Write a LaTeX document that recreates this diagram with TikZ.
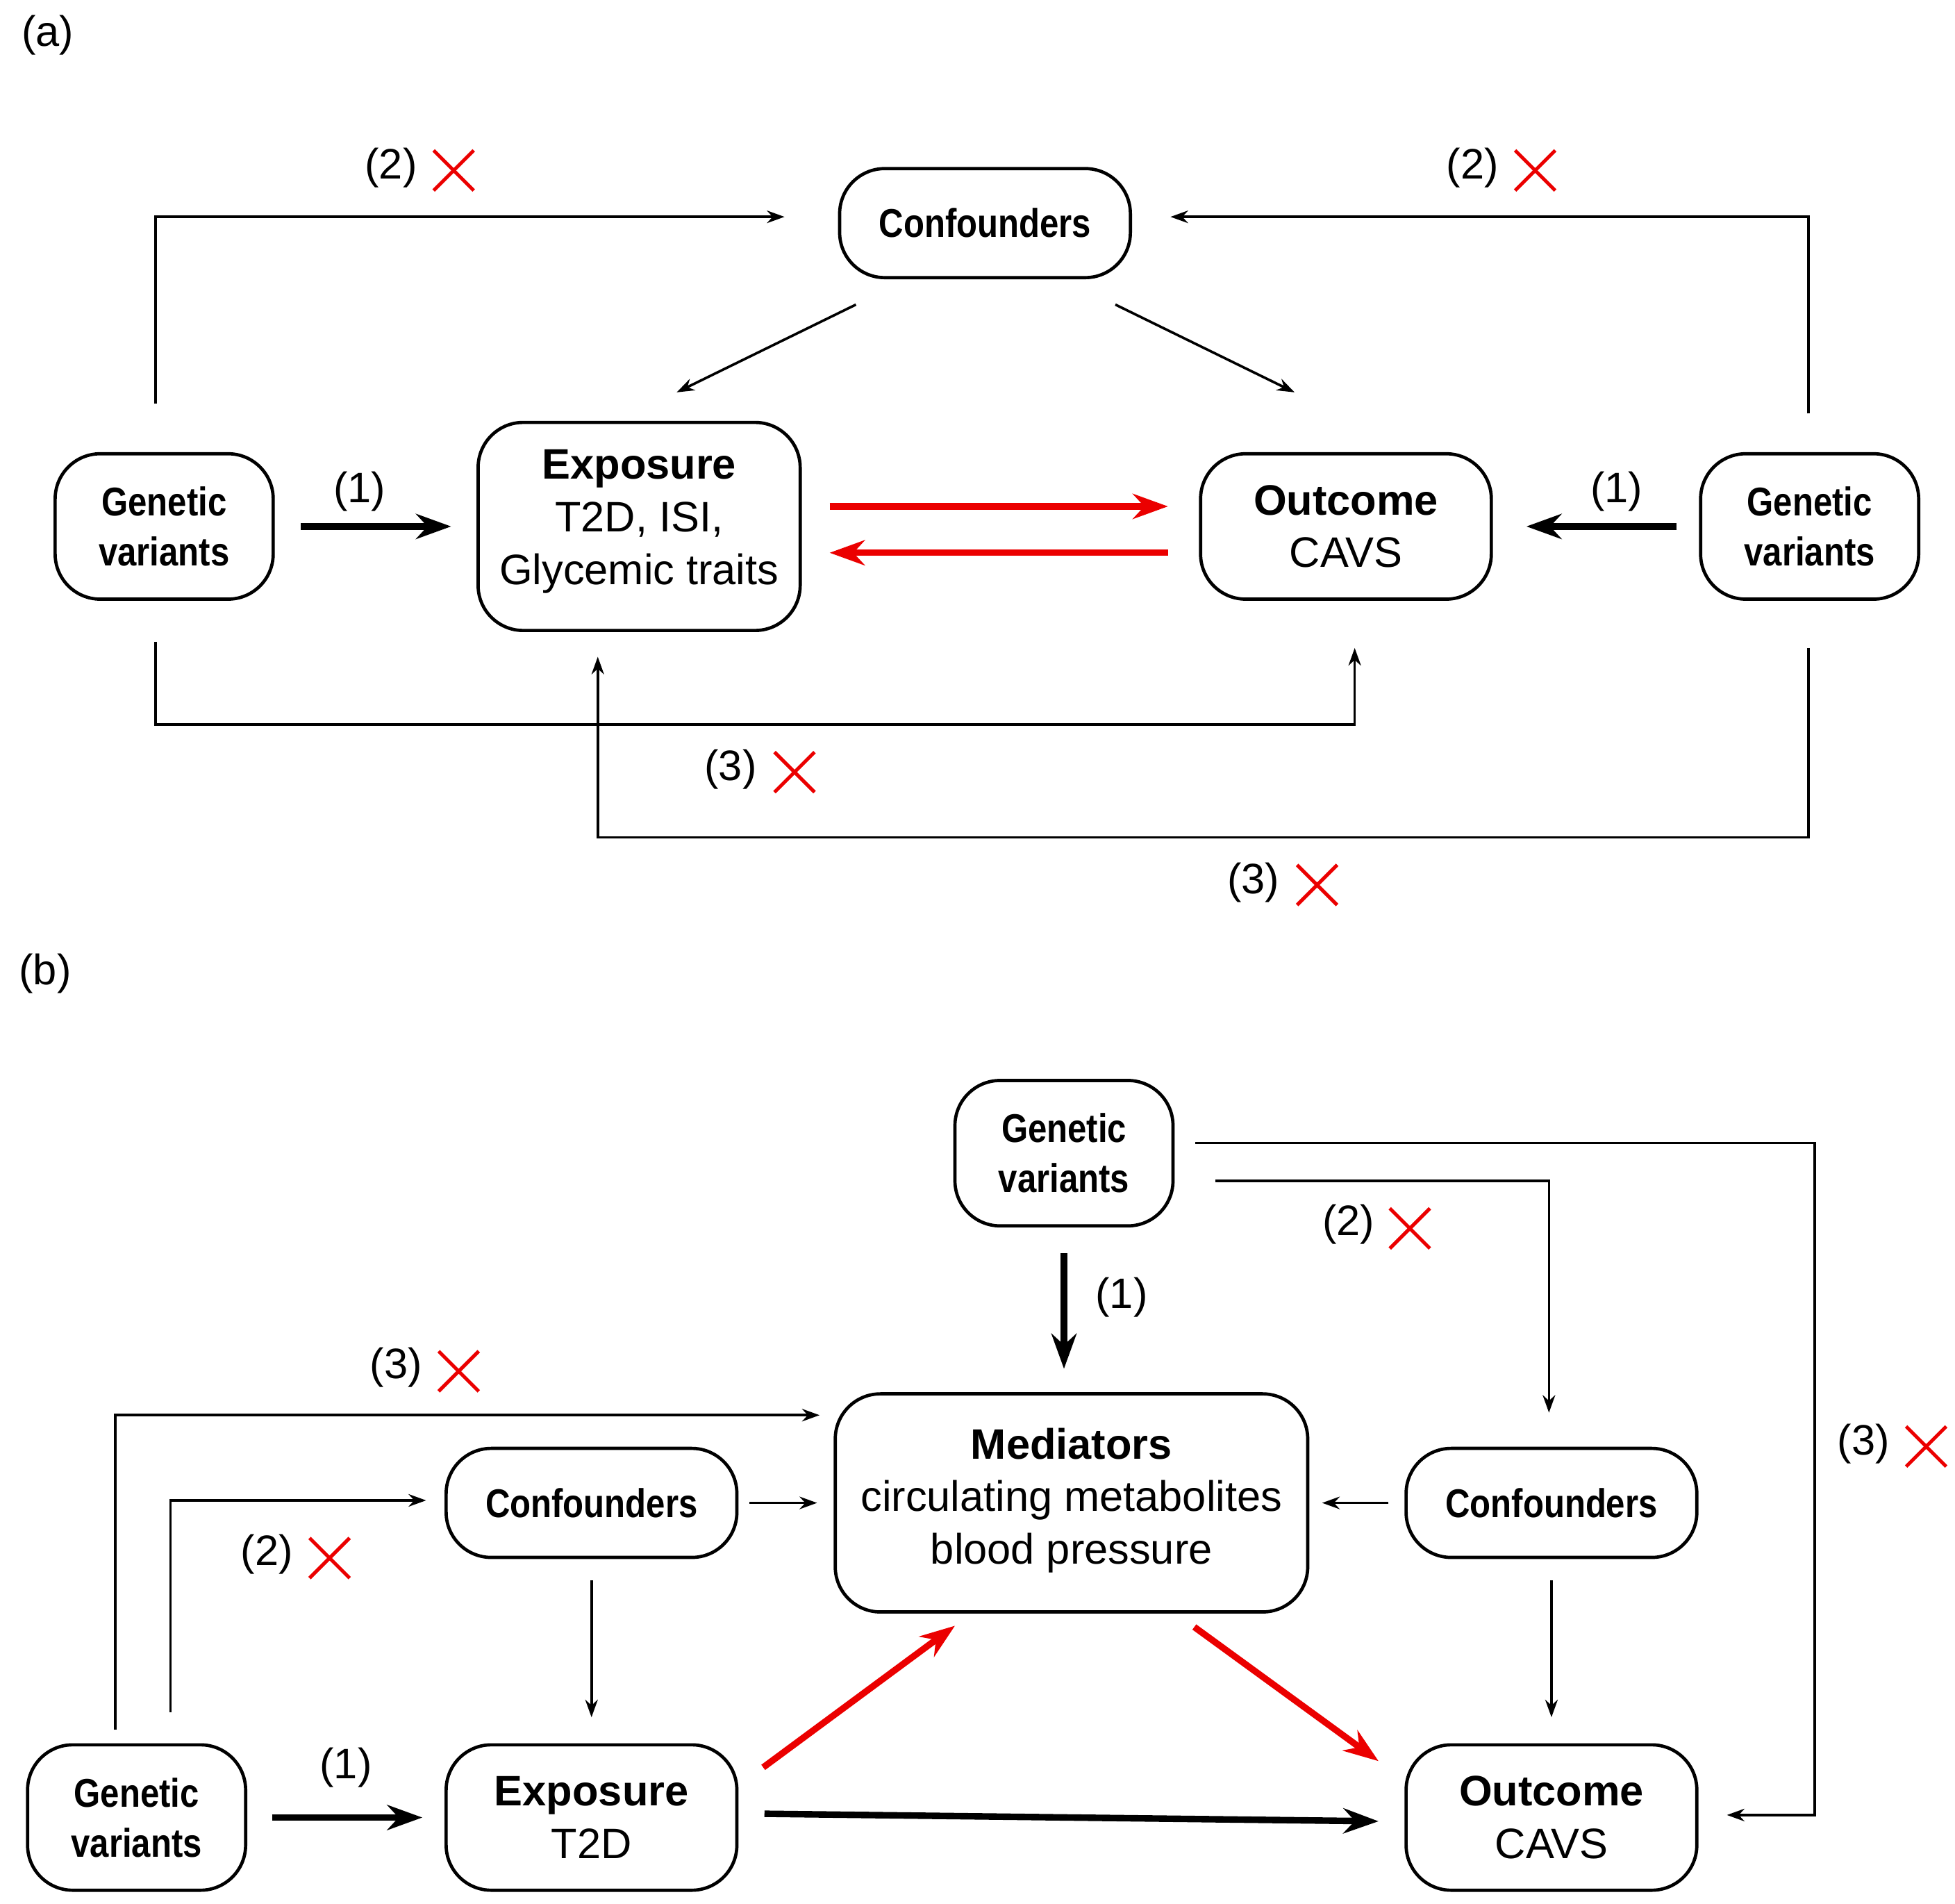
\documentclass[tikz,border=0pt]{standalone}
\usepackage{fontspec}
\setmainfont{Liberation Sans}
\usetikzlibrary{arrows.meta}
\definecolor{myred}{RGB}{235,0,0}
\begin{document}
\begin{tikzpicture}[x=0.5pt,y=-0.5pt,
  box/.style={draw,line width=1.3pt,rounded corners=18pt,inner sep=0pt},
  thin/.style={line width=1pt,-{Stealth[length=7pt,width=5pt]}},
  thick/.style={line width=2.6pt,-{Stealth[length=14pt,width=10pt]}},
  redarr/.style={line width=2.6pt,draw=myred,-{Stealth[length=14pt,width=10pt]}},
  lab/.style={font=\fontsize{17}{20}\selectfont},
  cond/.style={font=\fontsize{16}{20}\selectfont\bfseries,xscale=0.85,align=center},
  txt/.style={font=\fontsize{17}{21}\selectfont,align=center},
  cross/.pic={\draw[line width=1.4pt,myred] (-16,-16)--(16,16) (-16,16)--(16,-16);}]
\useasboundingbox (0,0) rectangle (1560,1519);
% ---------- (a)
\node[lab] at (38,28) {(a)};
\node[box,minimum width=116pt,minimum height=43.5pt] (c) at (786,178) {};
\node[cond] at (786,178) {Confounders};
\node[box,minimum width=128.5pt,minimum height=83pt] (e) at (510,420) {};
\node[txt] at (510,416) {\textbf{Exposure}\\T2D, ISI,\\Glycemic traits};
\node[box,minimum width=116pt,minimum height=58pt] (o) at (1074,420) {};
\node[txt] at (1074,420) {\textbf{Outcome}\\CAVS};
\node[box,minimum width=87pt,minimum height=58pt] (g1) at (131,420) {};
\node[cond] at (131,420) {Genetic\\variants};
\node[box,minimum width=87pt,minimum height=58pt] (g2) at (1444,420) {};
\node[cond] at (1444,420) {Genetic\\variants};
\coordinate (a1) at (240,420); \coordinate (a2) at (360,420);
\draw[thick] (a1)--(a2); \node[lab] at (287,392) {(1)};
\coordinate (b1) at (1338,420); \coordinate (b2) at (1218,420);
\draw[thick] (b1)--(b2); \node[lab] at (1290,392) {(1)};
\coordinate (r1) at (662,404); \coordinate (r2) at (932,404);
\coordinate (r3) at (932,441); \coordinate (r4) at (662,441);
\draw[redarr] (r1)--(r2); \draw[redarr] (r3)--(r4);
\coordinate (c1) at (683,243); \coordinate (c2) at (540,313);
\coordinate (c3) at (890,243); \coordinate (c4) at (1033,313);
\draw[thin] (c1)--(c2); \draw[thin] (c3)--(c4);
\coordinate (p1) at (124,322); \coordinate (p2) at (626,173);
\draw[thin] (p1)|-(p2); \node[lab] at (312,134) {(2)}; \pic at (362,136) {cross};
\coordinate (q1) at (1443,330); \coordinate (q2) at (934,173);
\draw[thin] (q1)|-(q2); \node[lab] at (1175,134) {(2)}; \pic at (1225,136) {cross};
\coordinate (s1) at (124,512); \coordinate (s2) at (1081,517);
\draw[thin] (s1)--(124,578)-|(s2); \node[lab] at (583,614) {(3)}; \pic at (634,616) {cross};
\coordinate (t1) at (1443,517); \coordinate (t2) at (477,524);
\draw[thin] (t1)--(1443,668)-|(t2); \node[lab] at (1000,704) {(3)}; \pic at (1051,706) {cross};
% ---------- (b)
\node[lab] at (36,777) {(b)};
\node[box,minimum width=87pt,minimum height=58pt] (gt) at (849,920) {};
\node[cond] at (849,920) {Genetic\\variants};
\node[box,minimum width=188.5pt,minimum height=87pt] (m) at (855,1199) {};
\node[txt] at (855,1197) {\textbf{Mediators}\\circulating metabolites\\blood pressure};
\node[box,minimum width=116pt,minimum height=43.5pt] (cl) at (472,1199) {};
\node[cond] at (472,1199) {Confounders};
\node[box,minimum width=116pt,minimum height=43.5pt] (cr) at (1238,1199) {};
\node[cond] at (1238,1199) {Confounders};
\node[box,minimum width=87pt,minimum height=58pt] (gl) at (109,1450) {};
\node[cond] at (109,1450) {Genetic\\variants};
\node[box,minimum width=116pt,minimum height=58pt] (eb) at (472,1450) {};
\node[txt] at (472,1450) {\textbf{Exposure}\\T2D};
\node[box,minimum width=116pt,minimum height=58pt] (ob) at (1238,1450) {};
\node[txt] at (1238,1450) {\textbf{Outcome}\\CAVS};
\coordinate (d1) at (849,1000); \coordinate (d2) at (849,1092);
\draw[thick] (d1)--(d2); \node[lab] at (895,1035) {(1)};
\coordinate (d3) at (217,1450); \coordinate (d4) at (337,1450);
\draw[thick] (d3)--(d4); \node[lab] at (276,1410) {(1)};
\coordinate (d5) at (610,1447); \coordinate (d6) at (1100,1453);
\draw[thick] (d5)--(d6);
\coordinate (e1) at (609,1410); \coordinate (e2) at (762,1297);
\coordinate (e3) at (953,1298); \coordinate (e4) at (1100,1405);
\draw[redarr] (e1)--(e2); \draw[redarr] (e3)--(e4);
\coordinate (f1) at (598,1199); \coordinate (f2) at (652,1199);
\coordinate (f3) at (1108,1199); \coordinate (f4) at (1055,1199);
\draw[thin] (f1)--(f2); \draw[thin] (f3)--(f4);
\coordinate (h1) at (472,1261); \coordinate (h2) at (472,1370);
\coordinate (h3) at (1238,1261); \coordinate (h4) at (1238,1370);
\draw[thin] (h1)--(h2); \draw[thin] (h3)--(h4);
\coordinate (k1) at (970,942); \coordinate (k2) at (1236,1127);
\draw[thin] (k1)-|(k2); \node[lab] at (1076,977) {(2)}; \pic at (1125,980) {cross};
\coordinate (l1) at (954,912); \coordinate (l2) at (1378,1448);
\draw[thin] (l1)--(1448,912)|-(l2); \node[lab] at (1487,1152) {(3)}; \pic at (1537,1154) {cross};
\coordinate (n1) at (92,1380); \coordinate (n2) at (654,1129);
\draw[thin] (n1)|-(n2); \node[lab] at (316,1091) {(3)}; \pic at (366,1094) {cross};
\coordinate (u1) at (136,1366); \coordinate (u2) at (340,1197);
\draw[thin] (u1)|-(u2); \node[lab] at (213,1240) {(2)}; \pic at (263,1243) {cross};
\end{tikzpicture}
\end{document}
